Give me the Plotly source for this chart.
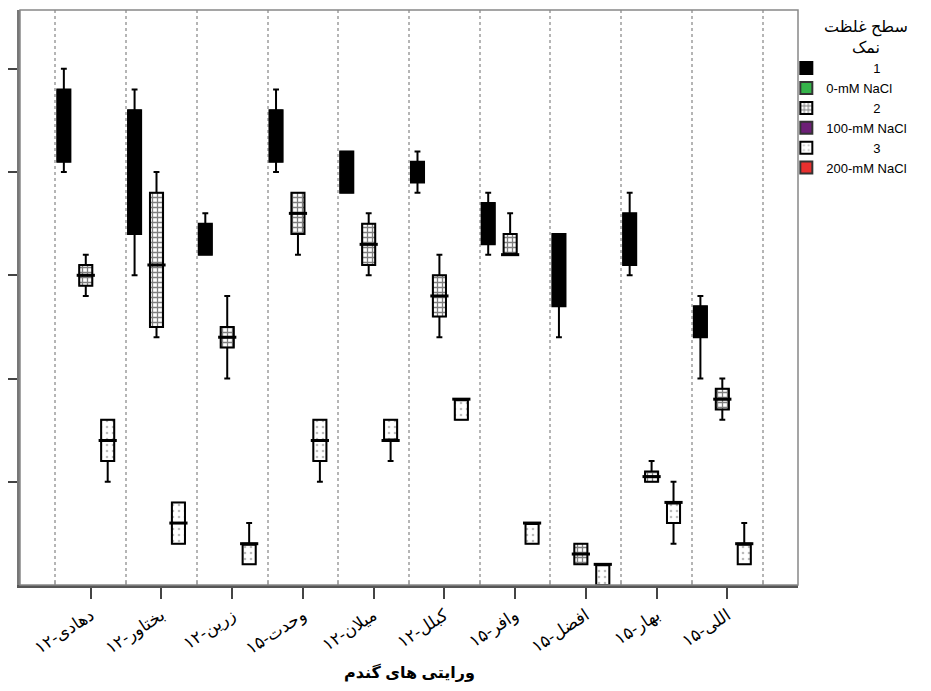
import plotly.graph_objects as go

# ---- data ----
varieties = ["دهادی-۱۲", "بختاور-۱۲", "زرین-۱۲", "وحدت-۱۵", "میلان-۱۲",
             "کبلل-۱۲", "وافر-۱۵", "افضل-۱۵", "بهار-۱۵", "اللی-۱۵"]

# level 1 (black)
g1_low = [4.0, 3.0, 3.2, 4.0, 3.8, 3.8, 3.2, 2.4, 3.0, 2.0]
g1_q1 = [4.1, 3.4, 3.2, 4.1, 3.8, 3.9, 3.3, 2.7, 3.1, 2.4]
g1_med = [4.5, 4.0, 3.4, 4.4, 4.0, 4.0, 3.5, 3.0, 3.3, 2.6]
g1_q3 = [4.8, 4.6, 3.5, 4.6, 4.2, 4.1, 3.7, 3.4, 3.6, 2.7]
g1_high = [5.0, 4.8, 3.6, 4.8, 4.2, 4.2, 3.8, 3.4, 3.8, 2.8]

# level 2 (checkered)
g2_low = [2.8, 2.4, 2.0, 3.2, 3.0, 2.4, 3.2, 0.2, 1.0, 1.6]
g2_q1 = [2.9, 2.5, 2.3, 3.4, 3.1, 2.6, 3.2, 0.2, 1.0, 1.7]
g2_med = [3.0, 3.1, 2.4, 3.6, 3.3, 2.8, 3.2, 0.3, 1.05, 1.8]
g2_q3 = [3.1, 3.8, 2.5, 3.8, 3.5, 3.0, 3.4, 0.4, 1.1, 1.9]
g2_high = [3.2, 4.0, 2.8, 3.8, 3.6, 3.2, 3.6, 0.4, 1.2, 2.0]

# level 3 (dotted white)
g3_low = [1.0, 0.4, 0.2, 1.0, 1.2, 1.6, 0.4, 0.0, 0.4, 0.2]
g3_q1 = [1.2, 0.4, 0.2, 1.2, 1.4, 1.6, 0.4, 0.0, 0.6, 0.2]
g3_med = [1.4, 0.6, 0.4, 1.4, 1.4, 1.8, 0.6, 0.2, 0.8, 0.4]
g3_q3 = [1.6, 0.8, 0.4, 1.6, 1.6, 1.8, 0.6, 0.2, 0.8, 0.4]
g3_high = [1.6, 0.8, 0.6, 1.6, 1.6, 1.8, 0.6, 0.2, 1.0, 0.6]

legend_names = ["1", "0-mM NaCl", "2", "100-mM NaCl", "3", "200-mM NaCl"]
legend_title = "سطح غلظت<br>نمک"
x_title = "ورایتی های گندم"

# ---- styling ----
offsets = [-0.38, -0.07, 0.24]
bw = 0.185
FONT = "Arial, DejaVu Sans, sans-serif"
pad = "\u00a0" * 13

groups = [
    dict(low=g1_low, q1=g1_q1, med=g1_med, q3=g1_q3, high=g1_high,
         marker=dict(color="black", line=dict(color="black", width=1))),
    dict(low=g2_low, q1=g2_q1, med=g2_med, q3=g2_q3, high=g2_high,
         marker=dict(color="white", line=dict(color="black", width=1),
                     pattern=dict(shape="+", fgcolor="black", bgcolor="white",
                                  size=5, solidity=0.45))),
    dict(low=g3_low, q1=g3_q1, med=g3_med, q3=g3_q3, high=g3_high,
         marker=dict(color="white", line=dict(color="black", width=1),
                     pattern=dict(shape=".", fgcolor="#777777", bgcolor="white",
                                  size=6, solidity=0.15))),
]
dummy_colors = ["#35b44a", "#6d1f77", "#e8302f"]

fig = go.Figure()
idx = list(range(len(varieties)))

for gi, g in enumerate(groups):
    xs = [i + offsets[gi] for i in idx]
    fig.add_trace(go.Bar(
        x=xs, base=g["q1"], y=[b - a for a, b in zip(g["q1"], g["q3"])],
        width=bw, marker=g["marker"], name=pad + legend_names[gi * 2],
        hoverinfo="skip"))
    fig.add_trace(go.Bar(
        x=[None], y=[None], name=legend_names[gi * 2 + 1],
        marker=dict(color=dummy_colors[gi], line=dict(color="#333", width=1))))

for gi, g in enumerate(groups):
    xs = [i + offsets[gi] for i in idx]
    fig.add_trace(go.Box(
        x=xs, q1=g["q1"], median=g["med"], q3=g["q3"],
        lowerfence=g["low"], upperfence=g["high"],
        width=bw, whiskerwidth=0.45, boxpoints=False,
        fillcolor="rgba(0,0,0,0)", line=dict(color="black", width=2),
        showlegend=False, hoverinfo="skip"))
    if gi > 0:
        fig.add_trace(go.Scatter(
            x=xs, y=g["med"], mode="markers",
            marker=dict(symbol="line-ew", size=13,
                        line=dict(color="black", width=3)),
            showlegend=False, hoverinfo="skip"))

fig.update_layout(
    width=923, height=675,
    margin=dict(l=12, r=133, t=2, b=98, autoexpand=False),
    plot_bgcolor="white", paper_bgcolor="white",
    barmode="overlay", boxmode="overlay",
    font=dict(family=FONT, size=13, color="black"),
    legend=dict(
        x=0.985, xanchor="left", y=0.925, yanchor="top",
        font=dict(size=13, family=FONT), traceorder="normal",
        itemsizing="constant", tracegroupgap=0,
        bgcolor="rgba(0,0,0,0)"),
    xaxis=dict(
        range=[-1, 10], tickmode="array", tickvals=idx, ticktext=varieties,
        tickangle=-33, ticks="outside", ticklen=11, tickwidth=2,
        tickcolor="#444", showline=True, linecolor="#555", linewidth=3,
        showgrid=False, zeroline=False,
        tickfont=dict(size=17, family=FONT),
        minor=dict(tickvals=[i - 0.5 for i in range(len(varieties) + 1)],
                   showgrid=True, gridcolor="#b5b5b5", gridwidth=1.5,
                   griddash="dot", ticks="inside", ticklen=4,
                   tickcolor="#aaa")),
    yaxis=dict(
        range=[0, 5.57], tickmode="array", tickvals=[1, 2, 3, 4, 5],
        showticklabels=False, ticks="outside", ticklen=12, tickwidth=2,
        tickcolor="#444", showline=True, linecolor="#777", linewidth=3,
        showgrid=False, zeroline=False),
    shapes=[dict(type="rect", xref="paper", yref="paper", x0=0, x1=1,
                 y0=0, y1=1, line=dict(color="#888", width=1.5),
                 layer="above")],
    annotations=[
        dict(text="<b>" + x_title + "</b>", xref="paper",
             yref="paper", x=0.5, y=-0.153, xanchor="center",
             yanchor="middle", showarrow=False,
             font=dict(size=16, family=FONT)),
        dict(text=legend_title, xref="paper", yref="paper",
             x=1.087, y=0.953, xanchor="center", yanchor="middle",
             align="center", showarrow=False,
             font=dict(size=16, family=FONT)),
    ],
)

fig.write_html("out.html")
